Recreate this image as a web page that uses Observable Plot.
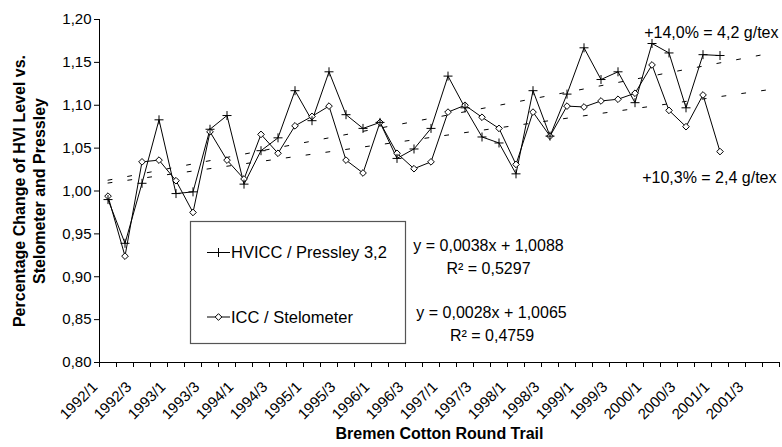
<!DOCTYPE html>
<html><head><meta charset="utf-8">
<script src="https://cdn.jsdelivr.net/npm/d3@7"></script>
<script src="https://cdn.jsdelivr.net/npm/@observablehq/plot@0.6"></script>
<style>
body{margin:0;background:#fff;}
svg{font-family:"Liberation Sans",Arial,Helvetica,sans-serif;}
</style>
</head><body><div id="chart"></div>
<script>
// Bremen Cotton Round Trial rounds (4 per year)
const rounds = [
  "1992/1","1992/2","1992/3","1992/4","1993/1","1993/2","1993/3","1993/4",
  "1994/1","1994/2","1994/3","1994/4","1995/1","1995/2","1995/3","1995/4",
  "1996/1","1996/2","1996/3","1996/4","1997/1","1997/2","1997/3","1997/4",
  "1998/1","1998/2","1998/3","1998/4","1999/1","1999/2","1999/3","1999/4",
  "2000/1","2000/2","2000/3","2000/4","2001/1","2001/2","2001/3","2001/4"
];
const tickLabels = [
  "1992/1","1992/3","1993/1","1993/3","1994/1","1994/3","1995/1","1995/3",
  "1996/1","1996/3","1997/1","1997/3","1998/1","1998/3","1999/1","1999/3",
  "2000/1","2000/3","2001/1","2001/3"
];
const hviPressley = [
  0.990,0.939,1.009,1.083,0.997,0.999,1.072,1.088,1.008,1.047,
  1.062,1.117,1.082,1.139,1.089,1.073,1.080,1.038,1.049,1.073,
  1.134,1.097,1.063,1.056,1.020,1.117,1.064,1.113,1.167,1.130,
  1.139,1.103,1.172,1.161,1.097,1.159,1.158
];
const iccStelometer = [
  0.994,0.924,1.034,1.036,1.012,0.975,1.069,1.036,1.014,1.066,
  1.044,1.076,1.087,1.099,1.036,1.021,1.080,1.044,1.026,1.034,
  1.092,1.100,1.086,1.073,1.031,1.092,1.064,1.099,1.098,1.105,
  1.107,1.114,1.147,1.094,1.075,1.112,1.046
];
const yTicks = [0.80,0.85,0.90,0.95,1.00,1.05,1.10,1.15,1.20];
const hviTrend = {slope: 0.0038, intercept: 1.0088};
const iccTrend = {slope: 0.0028, intercept: 1.0065};
const seriesNames = ["HVICC / Pressley 3,2", "ICC / Stelometer"];

const hviRows = hviPressley.map((v, i) => ({i, v}));
const iccRows = iccStelometer.map((v, i) => ({i, v}));
const trendRows = t => [0, rounds.length - 1].map(i => ({i, v: t.slope * (i + 1) + t.intercept}));
const boundaries = d3.range(rounds.length + 1).map(k => k - 0.5);
const fmt = d => d.toFixed(2).replace(".", ",");

const plusSymbol = {
  draw(ctx, size) {
    const r = Math.sqrt(size / Math.PI) * 1.5;
    ctx.moveTo(-r, 0); ctx.lineTo(r, 0);
    ctx.moveTo(0, -r); ctx.lineTo(0, r);
  }
};

const chart = Plot.plot({
  width: 782, height: 447,
  marginLeft: 99, marginRight: 3, marginTop: 19, marginBottom: 85,
  style: {background: "#fff", color: "#000", overflow: "visible"},
  x: {domain: [-0.5, rounds.length - 0.5], axis: null},
  y: {domain: [0.8, 1.2], axis: null},
  marks: [
    Plot.line(trendRows(hviTrend), {x: "i", y: "v", stroke: "#000", strokeWidth: 1, strokeDasharray: "4,16"}),
    Plot.line(trendRows(iccTrend), {x: "i", y: "v", stroke: "#000", strokeWidth: 1, strokeDasharray: "4,16"}),
    Plot.line(hviRows, {x: "i", y: "v", stroke: "#000", strokeWidth: 1}),
    Plot.line(iccRows, {x: "i", y: "v", stroke: "#000", strokeWidth: 1}),
    Plot.dot(iccRows, {x: "i", y: "v", symbol: "diamond2", r: 3, fill: "#fff", stroke: "#000", strokeWidth: 1}),
    Plot.dot(hviRows, {x: "i", y: "v", symbol: plusSymbol, r: 3, fill: "none", stroke: "#000", strokeWidth: 1}),
    Plot.ruleX([-0.5], {stroke: "#000"}),
    Plot.ruleY([0.8], {stroke: "#000"}),
    Plot.axisY({ticks: yTicks, tickFormat: fmt, tickSize: 5, tickPadding: 3, fontSize: 15, label: null}),
    Plot.axisX({ticks: boundaries, tickFormat: () => "", tickSize: 5, label: null}),
    Plot.text(tickLabels, {x: d => rounds.indexOf(d), text: d => d, frameAnchor: "bottom",
      rotate: -45, textAnchor: "end", lineAnchor: "middle", dx: -13, dy: 22, fontSize: 15}),
    Plot.text(["Bremen Cotton Round Trail"], {text: d => d, frameAnchor: "bottom", textAnchor: "middle", dy: 76, fontWeight: "bold", fontSize: 16}),
    Plot.text(["Percentage Change of HVI Level vs.\nStelometer and Pressley"], {text: d => d, frameAnchor: "left",
      textAnchor: "middle", rotate: -90, dx: -71, fontWeight: "bold", fontSize: 16, lineHeight: 1.22}),
    Plot.text(["+14,0% = 4,2 g/tex"], {text: d => d, frameAnchor: "top-right", textAnchor: "end", dx: -1, dy: 7.5, fontSize: 16}),
    Plot.text(["+10,3% = 2,4 g/tex"], {text: d => d, frameAnchor: "top-right", textAnchor: "end", dx: -3, dy: 152, fontSize: 16}),
    Plot.text(["y = 0,0038x + 1,0088"], {text: d => d, frameAnchor: "top-left", textAnchor: "middle", dx: 389, dy: 220.5, fontSize: 16}),
    Plot.text(["R² = 0,5297"], {text: d => d, frameAnchor: "top-left", textAnchor: "middle", dx: 389, dy: 243, fontSize: 16}),
    Plot.text(["y = 0,0028x + 1,0065"], {text: d => d, frameAnchor: "top-left", textAnchor: "middle", dx: 392, dy: 287, fontSize: 16}),
    Plot.text(["R² = 0,4759"], {text: d => d, frameAnchor: "top-left", textAnchor: "middle", dx: 392.5, dy: 310, fontSize: 16})
  ]
});

// Legend box inside the plot area
const svg = d3.select(chart);
const lg = svg.append("g").attr("class", "legend").attr("text-anchor", "start");
lg.append("rect").attr("x", 190.5).attr("y", 221.5).attr("width", 215).attr("height", 122)
  .attr("fill", "#fff").attr("stroke", "#555").attr("stroke-width", 1.2);
const entries = [{name: seriesNames[0], y: 252.5, sym: "plus"}, {name: seriesNames[1], y: 317, sym: "diamond"}];
for (const e of entries) {
  lg.append("line").attr("x1", 207).attr("x2", 230).attr("y1", e.y).attr("y2", e.y).attr("stroke", "#000");
  if (e.sym === "plus") {
    lg.append("path").attr("d", `M214,${e.y}h9M218.5,${e.y - 4.5}v9`).attr("stroke", "#000").attr("fill", "none");
  } else {
    lg.append("path").attr("d", d3.symbol(d3.symbolDiamond2, 9 * Math.PI)())
      .attr("transform", `translate(218.5,${e.y})`).attr("fill", "#fff").attr("stroke", "#000");
  }
  lg.append("text").attr("x", 231).attr("y", e.y).attr("dy", "0.35em").attr("text-anchor", "start")
    .attr("font-size", 16.5).attr("fill", "#000").text(e.name);
}

document.getElementById("chart").appendChild(chart);
</script>
</body></html>
